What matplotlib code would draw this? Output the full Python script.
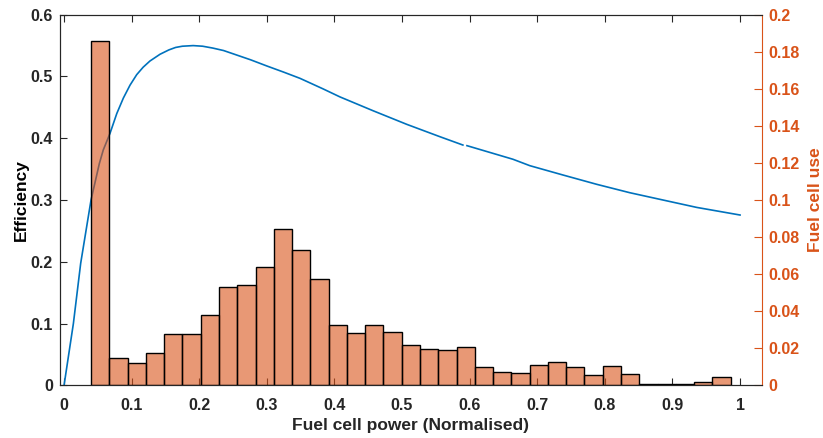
import numpy as np
import matplotlib
matplotlib.use("Agg")
import matplotlib.pyplot as plt

plt.rcParams["font.family"] = ["Liberation Sans", "DejaVu Sans"]
plt.rcParams["font.weight"] = "bold"

# ------------------------------
# DATA
# ------------------------------

# efficiency curve (left axis)
power = [0, 0.0138, 0.0246, 0.0399, 0.0522, 0.058, 0.068, 0.078, 0.0877,
         0.0976, 0.1075, 0.117, 0.127, 0.142, 0.155, 0.165, 0.175, 0.191,
         0.205, 0.22, 0.236, 0.252, 0.276, 0.300, 0.325, 0.349, 0.383,
         0.408, 0.457, 0.507, 0.556, 0.590, 0.593, 0.596, 0.664, 0.689,
         0.738, 0.788, 0.837, 0.886, 0.936, 1.0]
efficiency = [0, 0.100, 0.1975, 0.300, 0.359, 0.381, 0.408, 0.440, 0.465,
              0.486, 0.503, 0.515, 0.525, 0.536, 0.543, 0.547, 0.549, 0.550,
              0.549, 0.546, 0.542, 0.536, 0.527, 0.517, 0.507, 0.497, 0.480,
              0.467, 0.4446, 0.4225, 0.4025, 0.389, np.nan, 0.388, 0.366,
              0.3556, 0.3405, 0.3254, 0.3118, 0.300, 0.288, 0.2757]

# fuel cell use histogram (right axis)
bin_start = 0.04
bin_end = 0.986
fuel_use = [0.1858, 0.0147, 0.0119, 0.0173, 0.0275, 0.0275, 0.0379, 0.0529,
            0.0543, 0.0640, 0.0842, 0.0730, 0.0572, 0.0327, 0.0282, 0.0327,
            0.0289, 0.0216, 0.0198, 0.0192, 0.0208, 0.0100, 0.0073, 0.0067,
            0.0112, 0.0127, 0.0097, 0.0057, 0.0102, 0.0059, 0.0007, 0.0006,
            0.0007, 0.0016, 0.0045]

x_ticks = [0, 0.1, 0.2, 0.3, 0.4, 0.5, 0.6, 0.7, 0.8, 0.9, 1]
left_ticks = [0, 0.1, 0.2, 0.3, 0.4, 0.5, 0.6]
right_ticks = [0, 0.02, 0.04, 0.06, 0.08, 0.1, 0.12, 0.14, 0.16, 0.18, 0.2]

# ------------------------------
# PLOT
# ------------------------------

blue = "#0072BD"
orange = "#D95319"
dark = "#262626"

fig = plt.figure(figsize=(8.23, 4.38), dpi=100)
ax1 = fig.add_axes([0.0729, 0.1203, 0.8526, 0.8461])
ax2 = ax1.twinx()

ax1.plot(power, efficiency, color=blue, lw=1.2)

edges = np.linspace(bin_start, bin_end, len(fuel_use) + 1)
ax2.bar(edges[:-1], fuel_use, width=np.diff(edges), align="edge",
        facecolor=(0.851, 0.325, 0.098, 0.6), edgecolor="black",
        linewidth=1.0)

ax1.set_xlim(-0.006, 1.032)
ax1.set_ylim(0, 0.6)
ax2.set_ylim(0, 0.2)

ax1.set_xticks(x_ticks)
ax1.set_xticklabels([f"{t:g}" for t in x_ticks])
ax1.set_yticks(left_ticks)
ax1.set_yticklabels([f"{t:g}" for t in left_ticks])
ax2.set_yticks(right_ticks)
ax2.set_yticklabels([f"{t:g}" for t in right_ticks])

ax1.tick_params(axis="x", direction="in", length=5, width=0.8, colors=dark,
                top=True, labelsize=11.5, pad=9)
ax1.tick_params(axis="y", direction="in", length=5, width=0.8, colors=dark,
                labelsize=11.5, pad=5)
ax2.tick_params(axis="y", direction="in", length=6, width=0.8, colors=orange,
                labelsize=11.5, pad=5)

for s in ["left", "top", "bottom"]:
    ax1.spines[s].set_color(dark)
    ax2.spines[s].set_color(dark)
ax2.spines["right"].set_color(orange)
ax1.spines["right"].set_visible(False)

ax1.set_xlabel("Fuel cell power (Normalised)", fontsize=12.5,
               fontweight="bold", color=dark, labelpad=4)
ax1.set_ylabel("Efficiency", fontsize=12.5, fontweight="bold",
               color="black", labelpad=1)
ax2.set_ylabel("Fuel cell use", fontsize=12.5, fontweight="bold",
               color=orange, labelpad=6)

plt.savefig("out.png", dpi=100)
